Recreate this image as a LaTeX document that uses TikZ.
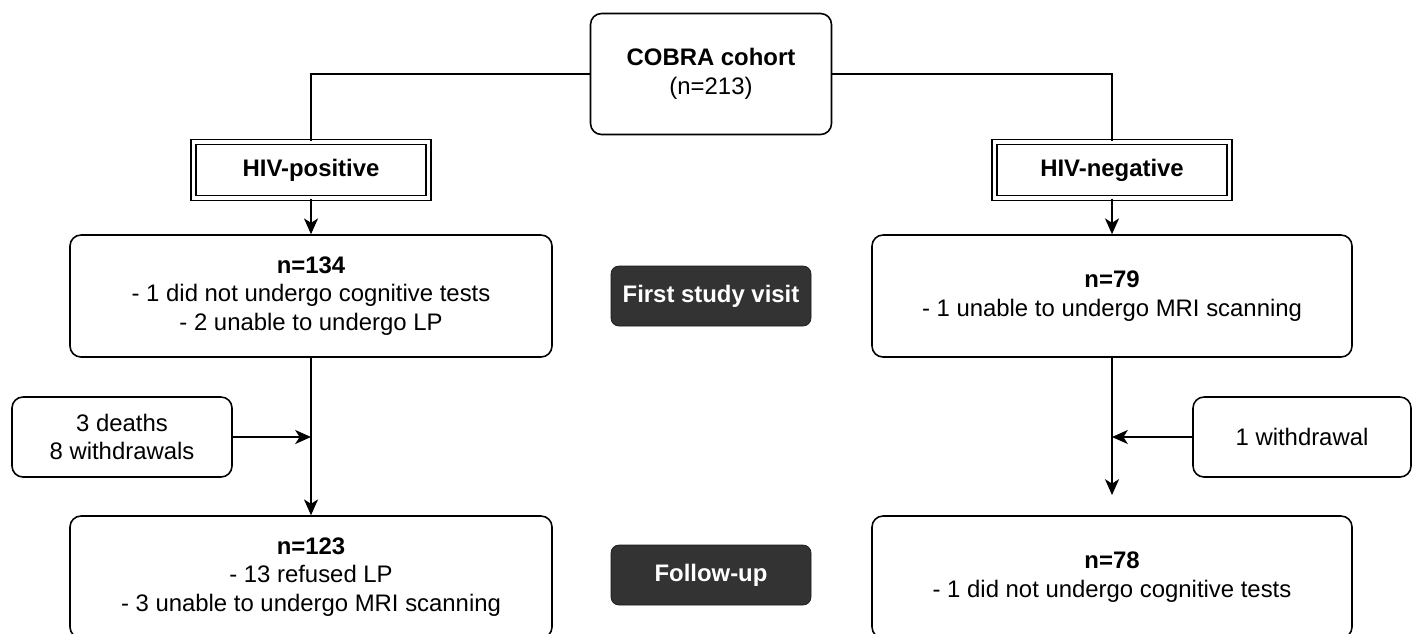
\documentclass[tikz,border=0pt]{standalone}
\usepackage{fontspec}
\setmainfont{Liberation Sans}
\usetikzlibrary{arrows.meta}

\newcommand{\flowfont}{\fontsize{13.6pt}{16.2pt}\selectfont}

\tikzset{
    infobox/.style={draw=black, line width=0.9pt, rounded corners=0.22cm, fill=white, align=center, inner sep=2pt},
    groupbox/.style={draw=black, line width=0.7pt, double, double distance=2.2pt, minimum width=4.7cm, minimum height=1.12cm, font=\flowfont\bfseries},
    visitbox/.style={draw=black!90, fill=black!80, text=white, rounded corners=0.16cm, minimum width=4.0cm, minimum height=1.2cm, font=\flowfont\bfseries},
    link/.style={line width=0.9pt},
    arr/.style={line width=0.9pt, -{Stealth[length=9pt, width=8pt, inset=2.5pt]}}
}

\begin{document}
\begin{tikzpicture}[font=\flowfont]

        \useasboundingbox (0,0) rectangle (28.32,-12.66);

        % Cohort
        \node[infobox, minimum width=4.82cm, minimum height=2.42cm] (cohort) at (14.22,-1.48) {\textbf{COBRA cohort}\\(n=213)};

        % Groups
        \node[groupbox] (hivpos) at (6.22,-3.40) {HIV-positive};
        \node[groupbox] (hivneg) at (22.24,-3.40) {HIV-negative};

        \draw[link] (cohort.west) -| (hivpos.north);
        \draw[link] (cohort.east) -| (hivneg.north);

        % First study visit
        \node[infobox, minimum width=9.64cm, minimum height=2.44cm] (pos1) at (6.22,-5.92) {\textbf{n=134}\\- 1 did not undergo cognitive tests\\- 2 unable to undergo LP};
        \node[infobox, minimum width=9.6cm, minimum height=2.44cm] (neg1) at (22.24,-5.92) {\textbf{n=79}\\- 1 unable to undergo MRI scanning};
        \node[visitbox] (visit1) at (14.22,-5.92) {First study visit};

        \draw[arr] (hivpos) -- (pos1);
        \draw[arr] (hivneg) -- (neg1);

        % Drop-outs
        \node[infobox, minimum width=4.4cm, minimum height=1.6cm] (deaths) at (2.44,-8.74) {3 deaths\\8 withdrawals};
        \node[infobox, minimum width=4.36cm, minimum height=1.6cm] (withdraw) at (26.04,-8.74) {1 withdrawal};

        % Follow-up
        \node[infobox, minimum width=9.64cm, minimum height=2.44cm] (pos2) at (6.22,-11.54) {\textbf{n=123}\\- 13 refused LP\\- 3 unable to undergo MRI scanning};
        \node[infobox, minimum width=9.6cm, minimum height=2.44cm] (neg2) at (22.24,-11.54) {\textbf{n=78}\\- 1 did not undergo cognitive tests};
        \node[visitbox] (visit2) at (14.22,-11.50) {Follow-up};

        \coordinate (negend) at (22.24,-9.90);

        \draw[arr] (pos1) -- (pos2);
        \draw[arr] (neg1) -- (negend);
        \draw[arr] (deaths.east) -- (deaths.east -| pos1.south);
        \draw[arr] (withdraw.west) -- (withdraw.west -| neg1.south);

    \end{tikzpicture}
\end{document}
